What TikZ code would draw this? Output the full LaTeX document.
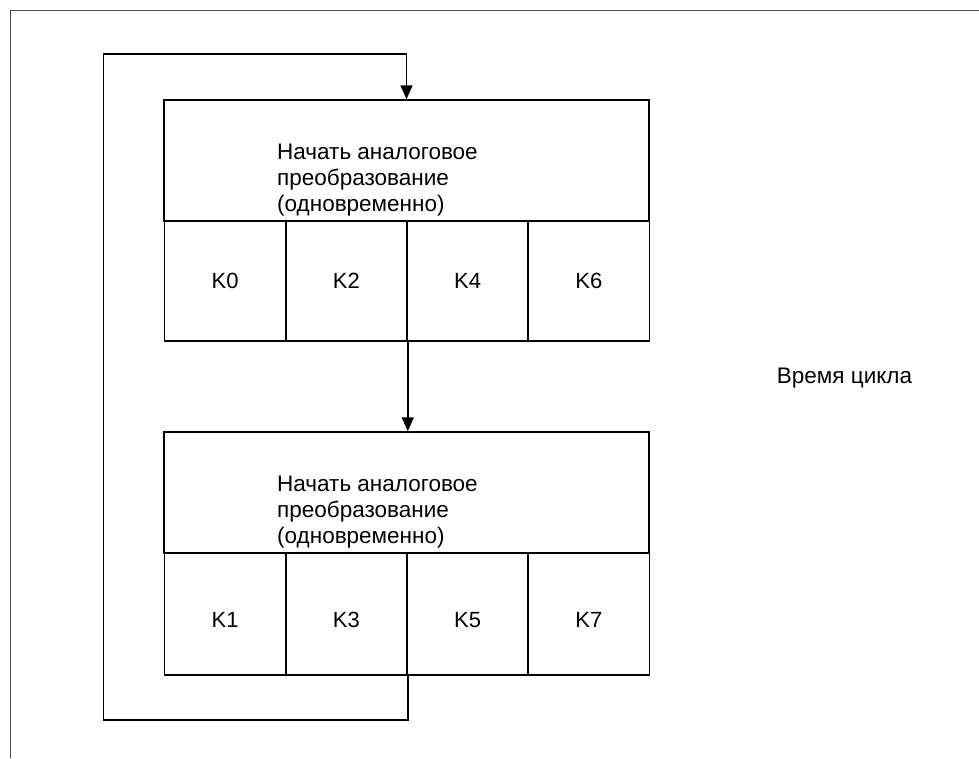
\documentclass[tikz,border=0pt]{standalone}
\usepackage{fontspec}
\setmainfont{Liberation Sans}
\usetikzlibrary{arrows.meta}
\begin{document}
\begin{tikzpicture}[x=1pt,y=-1pt,
  hdr/.style={draw=black,line width=1.5pt,inner sep=0pt,minimum width=485pt,minimum height=121pt},
  cell/.style={draw=black,line width=1.5pt,inner sep=0pt,minimum width=121.25pt},
  lab/.style={font=\fontsize{22}{26}\selectfont,inner sep=0pt},
  txt/.style={align=left,anchor=base west,inner sep=0pt,font=\fontsize{22.5}{26}\selectfont},
  conn/.style={line width=1.5pt,draw=black},
  arr/.style={conn,-{Triangle[length=14pt,width=12pt]}},
  framel/.style={line width=1.6pt,draw=black!70}]
\useasboundingbox (0,0) rectangle (979,758);
\coordinate (fb) at (10.5,758);
\coordinate (fc) at (10.5,10.5);
\coordinate (fr) at (979,10.5);
\draw[framel] (fb) -- (fc) -- (fr);

% top block
\node[hdr] (h1) at (406.5,160.5) {};
\node[txt] (t1) at (277,211) {Начать аналоговое\\преобразование\\(одновременно)};
\node[cell,minimum height=120pt,label={[lab]center:K0}] (k0) at (225.1,281) {};
\node[cell,minimum height=120pt,label={[lab]center:K2}] (k2) at (346.4,281) {};
\node[cell,minimum height=120pt,label={[lab]center:K4}] (k4) at (467.6,281) {};
\node[cell,minimum height=120pt,label={[lab]center:K6}] (k6) at (588.9,281) {};

% bottom block
\node[hdr] (h2) at (406.5,492.5) {};
\node[txt] (t2) at (277,543) {Начать аналоговое\\преобразование\\(одновременно)};
\node[cell,minimum height=122pt,label={[lab,yshift=-6pt]center:K1}] (k1) at (225.1,614) {};
\node[cell,minimum height=122pt,label={[lab,yshift=-6pt]center:K3}] (k3) at (346.4,614) {};
\node[cell,minimum height=122pt,label={[lab,yshift=-6pt]center:K5}] (k5) at (467.6,614) {};
\node[cell,minimum height=122pt,label={[lab,yshift=-6pt]center:K7}] (k7) at (588.9,614) {};

\node[lab,font=\fontsize{22.5}{26}\selectfont] (cyc) at (844.5,378) {Время цикла};

% connectors
\coordinate (lb) at (103.5,720);
\coordinate (lt) at (103.5,54);
\draw[arr] (k2.south east) -- (k2.south east |- h2.north);
\draw[arr] (k3.south east) |- (lb) -- (lt) -| (h1.north);
\end{tikzpicture}
\end{document}
